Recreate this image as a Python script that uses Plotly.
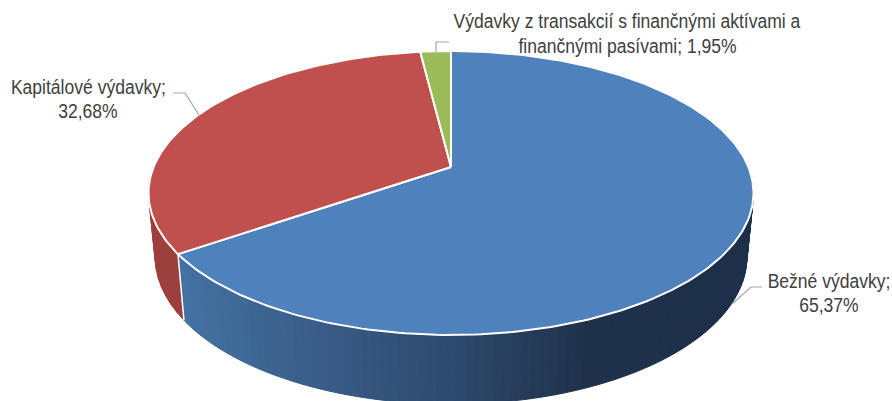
import math
import plotly.graph_objects as go

categories = ["Bežné výdavky", "Kapitálové výdavky", "Výdavky z transakcií s finančnými aktívami a finančnými pasívami"]
shares = [65.37, 32.68, 1.95]
share_labels = ["65,37%", "32,68%", "1,95%"]
top_colors = ["#4F81BD", "#C0504D", "#9BBB59"]
red_wall = "#9D3F3C"
wall_stops = [(184, (67, 113, 160)), (330, (56, 90, 133)), (450, (45, 74, 109)), (590, (31, 49, 74)), (760, (30, 48, 73))]

CX, CY, A, B, P = 451.0, 167.0, 297.4, 137.2, 0.183
KX, KY, CY2 = 0.978, 1.037, 230.0


def proj(deg, bottom=False):
    a = math.radians(deg)
    u, d = math.sin(a), -math.cos(a)
    s = 1 / (1 - P * d)
    if bottom:
        return CX + KX * A * u * s, CY2 + KY * B * d * s
    return CX + A * u * s, CY + B * d * s


def frange(a0, a1, step):
    n = max(2, int(abs(a1 - a0) / step) + 1)
    return [a0 + (a1 - a0) * i / (n - 1) for i in range(n)]


def wall_color(x):
    for (x0, c0), (x1, c1) in zip(wall_stops, wall_stops[1:]):
        if x <= x1:
            t = max(0.0, (x - x0) / (x1 - x0))
            return "rgb(%d,%d,%d)" % tuple(round(p + (q - p) * t) for p, q in zip(c0, c1))
    return "rgb(%d,%d,%d)" % wall_stops[-1][1]


fig = go.Figure()
bounds = [0.0]
for v in shares:
    bounds.append(bounds[-1] + v * 360 / sum(shares))


def poly(xs, ys, fill, line=None, width=0.0):
    fig.add_trace(go.Scatter(x=xs, y=ys, mode="lines", fill="toself", fillcolor=fill,
                             line=dict(color=line or fill, width=width),
                             hoverinfo="skip", showlegend=False))


def strip(t0, t1, color):
    pts = [proj(t0), proj(t1), proj(t1, True), proj(t0, True)]
    poly([p[0] for p in pts] + [pts[0][0]], [p[1] for p in pts] + [pts[0][1]], color, color, 1.0)


# red wall, as strips so that its silhouette joins the top rim
ang = frange(bounds[1], min(bounds[2], 295), 3)
for t0, t1 in zip(ang, ang[1:]):
    strip(t0, t1, red_wall)

# blue wall, gradient strips
ang = frange(bounds[0] + 60, bounds[1], 1.5)
for t0, t1 in zip(ang, ang[1:]):
    strip(t0, t1, wall_color((proj(t0)[0] + proj(t1)[0]) / 2))

# white edge on wall
e0, e1 = proj(bounds[1]), proj(bounds[1], True)
fig.add_trace(go.Scatter(x=[e0[0], e1[0]], y=[e0[1], e1[1]], mode="lines",
                         line=dict(color="white", width=1.5), hoverinfo="skip", showlegend=False))

# top faces
for i, col in enumerate(top_colors):
    ang = frange(bounds[i], bounds[i + 1], 1)
    pts = [(CX, CY)] + [proj(t) for t in ang] + [(CX, CY)]
    poly([p[0] for p in pts], [p[1] for p in pts], col, "white", 2)

# leader lines
leaders = [
    ([762, 751, 732], [287, 287, 304]),
    ([173, 185, 199], [93, 93, 115]),
    ([449, 436, 436], [42, 42, 52]),
]
for lx, ly in leaders:
    fig.add_trace(go.Scatter(x=lx, y=ly, mode="lines", line=dict(color="#A6A6A6", width=1.2),
                             hoverinfo="skip", showlegend=False))

label_lines = [
    (829, 281, f"{categories[0]};"),
    (829, 305, share_labels[0]),
    (88, 87, f"{categories[1]};"),
    (88, 111, share_labels[1]),
    (627, 21, "Výdavky z transakcií s finančnými aktívami a"),
    (627, 46, "finančnými pasívami; " + share_labels[2]),
]
for x, y, txt in label_lines:
    fig.add_annotation(x=x, y=y, text=txt, showarrow=False, xanchor="center", yanchor="middle",
                       align="center", font=dict(family="Liberation Sans", size=20, color="#404040"))

fig.update_layout(width=892, height=401, margin=dict(l=0, r=0, t=0, b=0),
                  paper_bgcolor="white", plot_bgcolor="white", showlegend=False,
                  xaxis=dict(range=[0, 892], visible=False, fixedrange=True),
                  yaxis=dict(range=[401, 0], visible=False, fixedrange=True))

# Arial-Narrow look: squeeze the real text horizontally about its own centre
narrow = """
document.body.style.margin='0';
document.querySelectorAll('.annotation-text-g text').forEach(function(t){
  var b=t.getBBox(), c=b.x+b.width/2;
  t.setAttribute('transform','translate('+c+',0) scale(0.877,1) translate('+(-c)+',0)');
});
"""
fig.write_html("out.html", config={"displayModeBar": False}, post_script=narrow)
